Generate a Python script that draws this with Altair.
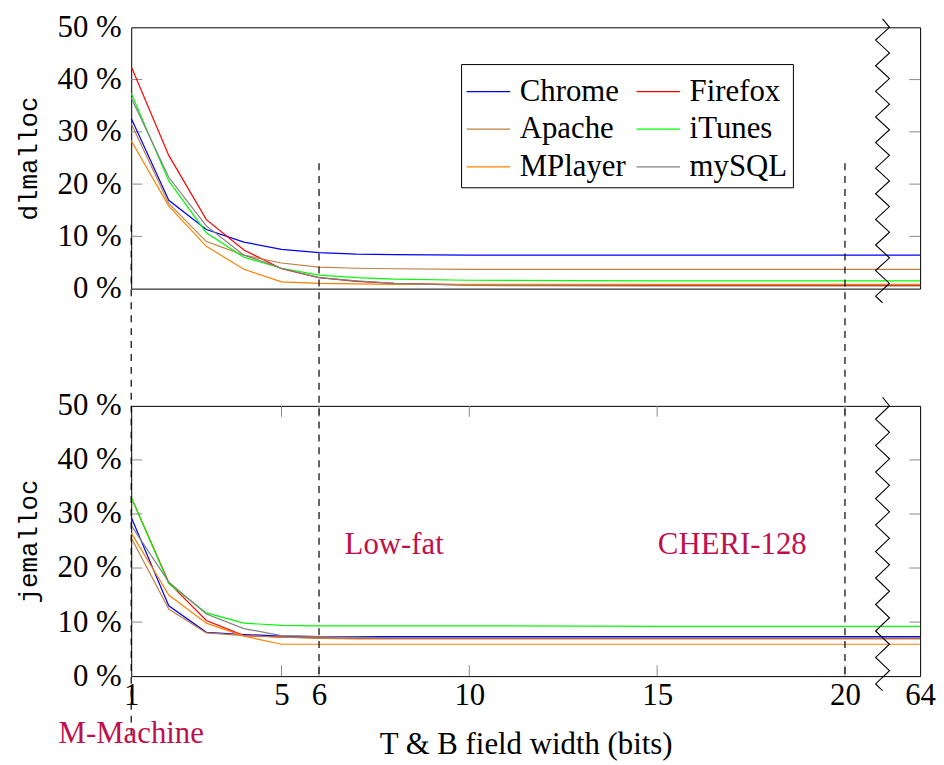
import altair as alt
import pandas as pd

# ---------------- data ----------------
x_bits = [1, 2, 3, 4, 5, 6, 7, 8, 10, 15, 20, 64]
series = ["Chrome", "Firefox", "Apache", "iTunes", "MPlayer", "mySQL"]
colors = ["#0000ff", "#ff0000", "#bf8040", "#00ff00", "#ff8000", "#808080"]

dl_chrome = [32.6, 16.9, 11.3, 8.9, 7.5, 6.9, 6.6, 6.5, 6.4, 6.4, 6.4, 6.4]
dl_firefox = [42.5, 25.5, 13.2, 7.4, 3.8, 2.1, 1.4, 1.0, 0.7, 0.6, 0.6, 0.6]
dl_apache = [31.6, 16.3, 9.0, 6.4, 4.9, 4.1, 3.9, 3.8, 3.7, 3.7, 3.7, 3.7]
dl_itunes = [37.4, 20.6, 10.7, 6.0, 3.9, 2.6, 2.1, 1.8, 1.6, 1.5, 1.5, 1.5]
dl_mplayer = [28.3, 15.8, 8.1, 3.7, 1.3, 1.0, 0.9, 0.8, 0.8, 0.8, 0.8, 0.8]
dl_mysql = [36.5, 21.3, 12.0, 6.4, 3.9, 2.1, 1.5, 1.0, 0.6, 0.5, 0.5, 0.5]

je_chrome = [29.4, 13.0, 8.1, 7.7, 7.4, 7.3, 7.3, 7.3, 7.3, 7.3, 7.3, 7.3]
je_firefox = [33.1, 17.3, 10.3, 7.5, 7.2, 7.1, 7.0, 7.0, 7.0, 7.0, 7.0, 7.0]
je_apache = [25.6, 12.4, 8.0, 7.5, 7.2, 7.0, 6.9, 6.9, 6.9, 6.9, 6.9, 6.9]
je_itunes = [33.1, 17.1, 11.7, 9.8, 9.4, 9.3, 9.3, 9.3, 9.3, 9.2, 9.2, 9.2]
je_mplayer = [26.5, 15.0, 9.8, 7.4, 5.9, 5.9, 5.9, 5.9, 5.9, 5.9, 5.9, 5.9]
je_mysql = [27.9, 17.4, 11.5, 8.8, 7.5, 7.3, 7.2, 7.1, 7.1, 7.1, 7.1, 7.1]

# legend entries fill column by column: this order reads row-wise as in the figure
legend_order = ["Chrome", "Apache", "MPlayer", "Firefox", "iTunes", "mySQL"]

x_tick_values = [1, 5, 6, 10, 15, 20, 64]
y_tick_values = [0, 10, 20, 30, 40, 50]
inner_y_ticks = [10, 20, 30, 40]
inner_x_ticks = [5, 6, 10, 15, 20]

# axis position of the "64" column (after the axis break at 21)
BREAK_POS = 21
END_POS = 22

# design points
design_labels = ["M-Machine", "Low-fat", "CHERI-128"]
design_bits = [1, 6, 20]
design_line_top = [83.5, 94.9, 94.9]
design_line_bottom = [-11.2, 0, 0]
design_text_x = [1, 8, 17]
design_text_y = [-12.4, 22.6, 22.6]

# axis-break zigzag (x offset from break position, y in %)
zig_dx = [0, 0.185, -0.185, 0.185, -0.185, 0.185, -0.185, 0.185, -0.185, 0.185, -0.185,
          0.185, -0.185, 0.185, -0.185, 0.185, -0.185, 0.185, -0.185, 0.185, -0.185,
          0.185, -0.185, 0]
zig_y = [51.6, 50.0, 47.55, 45.1, 42.65, 40.2, 37.75, 35.3, 32.85, 30.4, 27.95,
         25.5, 23.05, 20.6, 18.15, 15.7, 13.25, 10.8, 8.35, 5.9, 3.45,
         1.0, -1.45, -2.7]


def pos_of(b):
    return b if b <= 20 else END_POS


def long_df(values_by_series):
    rows = []
    for s, vals in zip(series, values_by_series):
        for b, v in zip(x_bits, vals):
            rows.append({"pos": pos_of(b), "bits": b, "value": v, "series": s})
    return pd.DataFrame(rows)


dl_df = long_df([dl_chrome, dl_firefox, dl_apache, dl_itunes, dl_mplayer, dl_mysql])
je_df = long_df([je_chrome, je_firefox, je_apache, je_itunes, je_mplayer, je_mysql])

zig_df = pd.DataFrame({"pos": [BREAK_POS + d for d in zig_dx], "value": zig_y,
                       "i": list(range(len(zig_y)))})
ytick_df = pd.DataFrame({"v": inner_y_ticks})
xtick_df = pd.DataFrame({"pos": [pos_of(b) for b in inner_x_ticks]})
design_df = pd.DataFrame({"pos": design_bits, "top": design_line_top,
                          "bottom": design_line_bottom})
label_df = pd.DataFrame({"label": design_labels, "pos": design_text_x, "value": design_text_y})

color_of = dict(zip(series, colors))
legend_colors = [color_of[s] for s in legend_order]

# ---------------- style ----------------
W = 794
H_TOP, H_BOT = 263, 272
SERIF = "Liberation Serif"
MONO = "Liberation Mono"
FS = 31
TICK_LEN = 11
TICK_COLOR = "#8a8a8a"
ANNOT = "#c0104c"

xscale = alt.Scale(domain=[1, END_POS], nice=False, zero=False)
yscale = alt.Scale(domain=[0, 50], nice=False, zero=False)


def y_axis(title, h):
    return alt.Axis(values=y_tick_values, labelExpr="datum.value + ' %'",
                    title=title, titleFont=MONO, titleFontSize=26, titleFontWeight="normal",
                    titleX=-103, titleY=h / 2, titleAngle=270, titleAlign="center",
                    titleBaseline="middle", titleColor="black",
                    labelFont=SERIF, labelFontSize=FS, labelColor="black", labelPadding=10,
                    ticks=False, domain=False, grid=False)


def panel(df, title, with_legend, bottom, h):
    if with_legend:
        legend = alt.Legend(orient="none", legendX=332, legendY=37, columns=2, title=None,
                            symbolType="stroke", symbolSize=1918, symbolStrokeWidth=1.2,
                            labelFont=SERIF, labelFontSize=FS, labelColor="black",
                            strokeColor="black", fillColor="white", padding=5,
                            rowPadding=0, columnPadding=8, labelOffset=9, labelLimit=300)
    else:
        legend = None

    if bottom:
        xaxis = alt.Axis(values=[pos_of(b) for b in x_tick_values],
                         labelExpr=f"datum.value == {END_POS} ? '64' : datum.label",
                         labelFont=SERIF, labelFontSize=FS, labelColor="black",
                         labelPadding=5, ticks=False, domain=False, grid=False,
                         labelFlush=False, labelOverlap=False,
                         title="T & B field width (bits)", titleFont=SERIF,
                         titleFontSize=FS, titleFontWeight="normal", titleColor="black",
                         titleY=78, titleBaseline="alphabetic")
    else:
        xaxis = None

    lines = alt.Chart(df).mark_line(strokeWidth=1.2).encode(
        x=alt.X("pos:Q", scale=xscale, axis=xaxis),
        y=alt.Y("value:Q", scale=yscale, axis=y_axis(title, h)),
        color=alt.Color("series:N", scale=alt.Scale(domain=legend_order, range=legend_colors),
                        legend=legend),
        detail="series:N",
    )

    lticks = alt.Chart(ytick_df).mark_rule(color=TICK_COLOR, strokeWidth=1).encode(
        y=alt.Y("v:Q", scale=yscale), x=alt.value(0), x2=alt.value(TICK_LEN))
    rticks = alt.Chart(ytick_df).mark_rule(color=TICK_COLOR, strokeWidth=1).encode(
        y=alt.Y("v:Q", scale=yscale), x=alt.value(W - TICK_LEN), x2=alt.value(W))

    zig = alt.Chart(zig_df).mark_line(color="black", strokeWidth=1.1).encode(
        x=alt.X("pos:Q", scale=xscale), y=alt.Y("value:Q", scale=yscale),
        order="i:Q")

    layers = [lticks, rticks, lines, zig]

    if bottom:
        bticks = alt.Chart(xtick_df).mark_rule(color=TICK_COLOR, strokeWidth=1).encode(
            x=alt.X("pos:Q", scale=xscale), y=alt.value(h - TICK_LEN), y2=alt.value(h))
        tticks = alt.Chart(xtick_df).mark_rule(color=TICK_COLOR, strokeWidth=1).encode(
            x=alt.X("pos:Q", scale=xscale), y=alt.value(0), y2=alt.value(TICK_LEN))
        dashes = alt.Chart(design_df).mark_rule(color="black", strokeWidth=1.2,
                                                strokeDash=[7, 6]).encode(
            x=alt.X("pos:Q", scale=xscale),
            y=alt.Y("top:Q", scale=yscale), y2="bottom:Q")
        texts = alt.Chart(label_df).mark_text(font=SERIF, fontSize=FS, color=ANNOT,
                                               align="center", baseline="alphabetic").encode(
            x=alt.X("pos:Q", scale=xscale), y=alt.Y("value:Q", scale=yscale),
            text="label:N")
        layers = [bticks, tticks] + layers + [dashes, texts]

    return alt.layer(*layers).properties(width=W, height=h)


top = panel(dl_df, "dlmalloc", True, False, H_TOP)
bot = panel(je_df, "jemalloc", False, True, H_BOT)

chart = alt.vconcat(top, bot, spacing=118, bounds="flush").resolve_scale(
    color="independent"
).properties(
    padding={"top": 0, "left": 7, "right": 0, "bottom": 0},
    background="white",
).configure_view(stroke="black", strokeWidth=1)

chart.save("out.html", embed_options={"renderer": "svg", "actions": False})
